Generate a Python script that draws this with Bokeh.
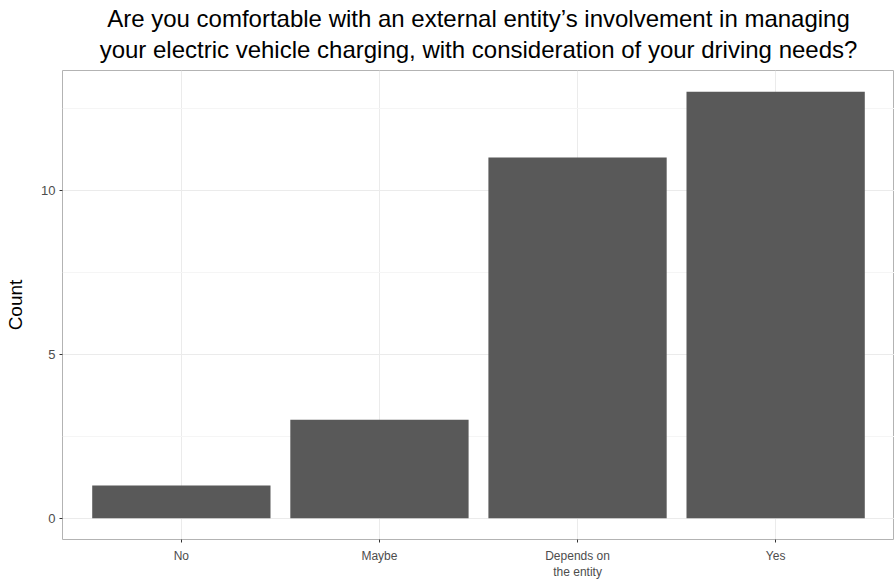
from bokeh.plotting import figure
from bokeh.models import ColumnDataSource, Title, SingleIntervalTicker, Range1d, FactorRange
from bokeh.embed import file_html
from bokeh.resources import INLINE

categories = ["No", "Maybe", "Depends on\nthe entity", "Yes"]
counts = [1, 3, 11, 13]

src = ColumnDataSource(data=dict(cat=categories, count=counts))

x_range = FactorRange(*categories, range_padding=0.1, range_padding_units="absolute")
p = figure(x_range=x_range, y_range=Range1d(-0.65, 13.65), width=894, height=585,
           output_backend="svg", toolbar_location=None,
           min_border_left=62, min_border_right=0, min_border_top=70, min_border_bottom=46)

p.vbar(x="cat", top="count", bottom=0, width=0.9, source=src,
       fill_color="#595959", line_color=None)

p.add_layout(Title(text="your electric vehicle charging, with consideration of your driving needs?",
                   align="center", text_font="Liberation Sans", text_font_size="24px",
                   text_font_style="normal", text_color="#000000", standoff=15), "above")
p.add_layout(Title(text="Are you comfortable with an external entity\u2019s involvement in managing",
                   align="center", text_font="Liberation Sans", text_font_size="24px",
                   text_font_style="normal", text_color="#000000", standoff=-11), "above")

p.outline_line_color = "#B3B3B3"
p.outline_line_width = 1
p.background_fill_color = "white"
p.border_fill_color = "white"

p.yaxis.ticker = SingleIntervalTicker(interval=5, num_minor_ticks=2)
p.yaxis.axis_label = "Count"
p.yaxis.axis_label_text_font = "Liberation Sans"
p.yaxis.axis_label_text_font_size = "19px"
p.yaxis.axis_label_text_font_style = "normal"
p.yaxis.axis_label_text_color = "#000000"
p.yaxis.axis_label_standoff = 12

for ax in (p.xaxis, p.yaxis):
    ax.axis_line_color = None
    ax.major_tick_line_color = "#333333"
    ax.major_tick_in = 0
    ax.major_tick_out = 3
    ax.minor_tick_line_color = None
    ax.major_label_text_font = "Liberation Sans"
    ax.major_label_text_color = "#4D4D4D"
    ax.major_label_standoff = 3

p.xaxis.major_label_standoff = 6
p.yaxis.major_label_text_font_size = "13px"
p.xaxis.major_label_text_font_size = "12px"

p.ygrid.grid_line_color = "#EBEBEB"
p.ygrid.minor_grid_line_color = "#F5F5F5"
p.xgrid.grid_line_color = "#EBEBEB"

open("out.html", "w").write(file_html(p, INLINE))
